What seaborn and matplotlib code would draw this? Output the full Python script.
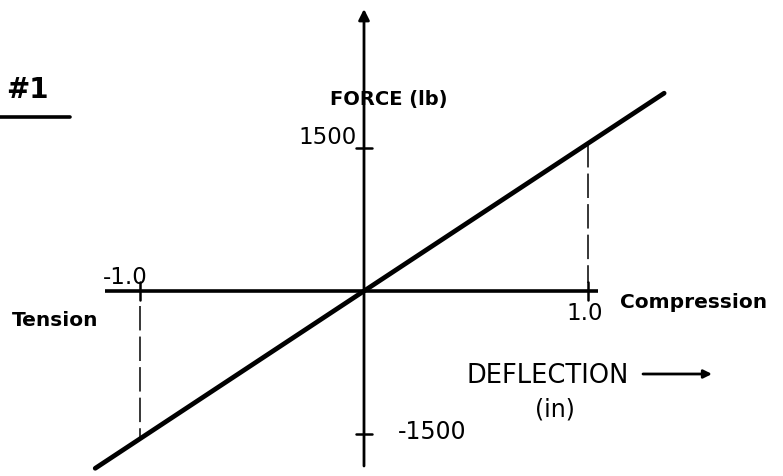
import numpy as np
import matplotlib
matplotlib.use("Agg")
import matplotlib.pyplot as plt
import seaborn as sns

# ---- data ----
deflection = [-1.20, 0.0, 1.34]          # in
force = [-1860.0, 0.0, 2075.0]           # lb
x_ticks = [-1.0, 1.0]
x_tick_labels = ["-1.0", "1.0"]
y_ticks = [1500, -1500]
y_tick_labels = ["1500", "-1500"]

sns.set_theme(style="white")
plt.rcParams["font.family"] = ["DejaVu Sans"]
plt.rcParams["text.color"] = "black"

W, H = 783, 477
fig = plt.figure(figsize=(W / 100, H / 100), dpi=100)
ax = fig.add_axes([0, 0, 1, 1])

# pixel <-> data mapping of the drawing
OX, OY, SX, SY = 364.0, 292.0, 224.0, 143.0 / 1500.0
def dx(px):
    return (px - OX) / SX
def dy(py):
    return (OY - py) / SY

ax.set_xlim(dx(0), dx(W))
ax.set_ylim(dy(H), dy(0))
ax.axis("off")

# main force-deflection line
sns.lineplot(x=deflection, y=force, ax=ax, color="black", lw=3.4,
             solid_capstyle="round", sort=False)

# horizontal (deflection) axis
ax.plot([dx(105), dx(598)], [0, 0], color="black", lw=2.6, solid_capstyle="butt")
# vertical (force) axis with arrow
ax.annotate("", xy=(0, dy(10)), xytext=(0, dy(467)),
            arrowprops=dict(arrowstyle="-|>", lw=2.0, color="black",
                            mutation_scale=16, shrinkA=0, shrinkB=0))

# tick marks
for xt in x_ticks:
    ax.plot([xt, xt], [dy(283), dy(301)], color="black", lw=1.8)
for yt in y_ticks:
    ax.plot([dx(356), dx(372)], [yt, yt], color="black", lw=1.8)

# dashed guides from axis to the line
f_at = {xt: float(np.interp(xt, deflection, force)) for xt in x_ticks}
ax.plot([-1.0, -1.0], [dy(307), f_at[-1.0]], color="black", lw=1.1,
        linestyle=(0, (16, 4)))
ax.plot([1.0, 1.0], [f_at[1.0], dy(284)], color="black", lw=1.1,
        linestyle=(0, (16, 4)))

# tick labels
ax.text(dx(125), dy(277), x_tick_labels[0], fontsize=16.5, ha="center", va="center")
ax.text(dx(585), dy(314), x_tick_labels[1], fontsize=16.5, ha="center", va="center")
ax.text(dx(328), dy(138), y_tick_labels[0], fontsize=16.5, ha="center", va="center")
ax.text(dx(432), dy(432), y_tick_labels[1], fontsize=17, ha="center", va="center")

# annotations / axis titles
ax.text(dx(389), dy(100), "FORCE (lb)", fontsize=14, fontweight="bold",
        ha="center", va="center")
ax.text(dx(694), dy(303), "Compression", fontsize=14.5, fontweight="bold",
        ha="center", va="center")
ax.text(dx(55), dy(320), "Tension", fontsize=14.5, fontweight="bold",
        ha="center", va="center")
ax.text(dx(548), dy(376), "DEFLECTION", fontsize=18.5, ha="center", va="center")
ax.annotate("", xy=(dx(712), dy(375)), xytext=(dx(643), dy(375)),
            arrowprops=dict(arrowstyle="-|>", lw=2.0, color="black",
                            mutation_scale=12, shrinkA=0, shrinkB=0))
ax.text(dx(555), dy(410), "(in)", fontsize=17, ha="center", va="center")

ax.text(dx(27), dy(90), "#1", fontsize=20, fontweight="bold", ha="center", va="center")
ax.plot([dx(0), dx(70)], [dy(118), dy(118)], color="black", lw=2.6)

fig.savefig("out.png", dpi=100, facecolor="white")
